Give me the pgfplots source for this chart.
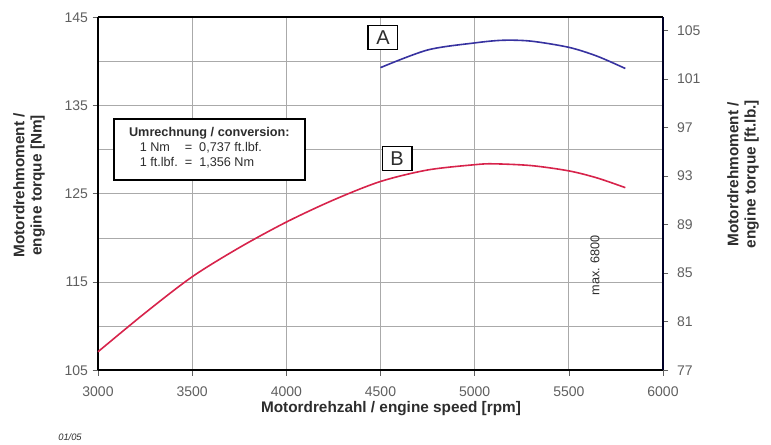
\documentclass[border=0pt]{standalone}
\usepackage{fontspec}
\setmainfont{Liberation Sans}
\usepackage{pgfplots}
\pgfplotsset{compat=1.18}
\definecolor{curveA}{RGB}{55,50,160}
\definecolor{curveB}{RGB}{215,35,75}
\definecolor{tickgray}{RGB}{95,95,95}
\definecolor{gridgray}{RGB}{170,170,170}
\definecolor{labgray}{RGB}{45,45,45}
\begin{document}
\begin{tikzpicture}
\path[use as bounding box] (-73.5pt,-55.5pt) rectangle (504.75pt,277.75pt);
\begin{axis}[
  scale only axis, width=423.75pt, height=264.75pt,
  xmin=3000, xmax=6000, ymin=105, ymax=145,
  xtick={3000,3500,...,6000},
  ytick={105,115,...,145},
  minor ytick={110,120,130,140},
  grid=both,
  major grid style={gridgray, line width=0.6pt},
  minor grid style={gridgray, line width=0.6pt},
  axis line style={line width=1.5pt, black},
  axis y line*=left, axis x line*=bottom,
  tick align=outside, major tick length=4pt, minor tick length=0pt,
  tick style={tickgray, line width=0.5pt},
  tick label style={font=\fontsize{10.5}{12}\selectfont, text=tickgray},
  /pgf/number format/assume math mode=true,
  /pgf/number format/1000 sep={},
  xticklabel style={yshift=-5pt},
  clip=false,
]
\addplot[curveA, line width=1.2pt, smooth] coordinates {
  (4500,139.3) (4750,141.3) (5000,142.1) (5150,142.4) (5300,142.3) (5500,141.6) (5650,140.6) (5800,139.2)
};
\addplot[curveB, line width=1.2pt, smooth] coordinates {
  (3000,107.1) (3250,111.5) (3500,115.6) (3750,118.9) (4000,121.8) (4250,124.3) (4500,126.4) (4750,127.7) (5000,128.3) (5100,128.4) (5300,128.2) (5500,127.6) (5650,126.8) (5800,125.7)
};
\draw[black, line width=1.5pt] (axis cs:3000,145) -- (axis cs:6000,145);
\node[draw=black, line width=1.3pt, fill=white, inner sep=1.5pt, minimum width=22pt, minimum height=18pt, font=\fontsize{15}{16}\selectfont, text=labgray] at (axis cs:4513,142.7) {A};
\node[draw=black, line width=1.3pt, fill=white, inner sep=1.5pt, minimum width=22pt, minimum height=18pt, font=\fontsize{15}{16}\selectfont, text=labgray] at (axis cs:4588,129.0) {B};
\node[draw=black, line width=1.4pt, fill=white, anchor=north west, inner sep=3.5pt, minimum width=143pt, minimum height=46pt, align=left, font=\fontsize{9.5}{11.5}\selectfont, text=labgray] at (axis cs:3080,133.6)
  {\textbf{Umrechnung / conversion:}\\[0pt]
   \hspace*{8pt}\begin{tabular}{@{}l@{\ \ }l@{\ \ }l@{}}1 Nm & = & 0,737 ft.lbf.\\ 1 ft.lbf. & = & 1,356 Nm\end{tabular}};
\node[rotate=90, font=\fontsize{9.5}{10}\selectfont, text=labgray] at (axis cs:5639,116.9) {max. 6800};
\end{axis}
\begin{axis}[
  scale only axis, width=423.75pt, height=264.75pt,
  xmin=3000, xmax=6000, ymin=77, ymax=106.07,
  axis y line*=right, axis x line=none,
  ytick={77,81,...,105},
  axis line style={line width=1.5pt, black!85!blue},
  tick align=outside, major tick length=4pt,
  tick style={tickgray, line width=0.5pt},
  tick label style={font=\fontsize{10.5}{12}\selectfont, text=tickgray},
  /pgf/number format/assume math mode=true,
  yticklabel style={xshift=3pt},
]
\addplot[draw=none] coordinates {(3000,77)};
\end{axis}
\node[rotate=90, align=center, font=\bfseries\fontsize{11.5}{13}\selectfont, text=labgray] at (-51.75pt,138.75pt) {Motordrehmoment /\\engine torque [Nm]};
\node[rotate=90, align=center, font=\bfseries\fontsize{11.5}{13}\selectfont, text=labgray] at (483.75pt,147pt) {Motordrehmoment /\\engine torque [ft.lb.]};
\node[font=\bfseries\fontsize{11.5}{13}\selectfont, text=labgray] at (219.75pt,-28.5pt) {Motordrehzahl / engine speed [rpm]};
\node[font=\itshape\fontsize{7}{8}\selectfont, text=labgray] at (-21pt,-50.25pt) {01/05};
\end{tikzpicture}
\end{document}
